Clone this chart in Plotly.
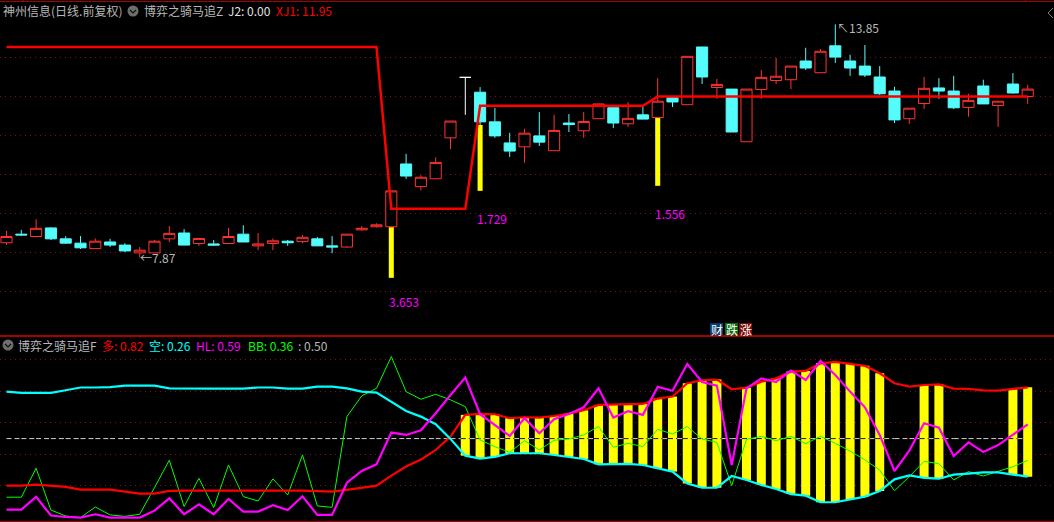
import plotly.graph_objects as go

W, H = 1054, 522

# ---- price panel data (index = trading day) ----
opens = [8.25,8.47,8.41,8.63,8.35,8.24,8.10,8.27,8.19,7.99,7.99,8.35,8.50,8.23,8.22,8.23,8.47,8.17,8.23,8.29,8.28,8.35,8.17,8.14,
         8.58,8.66,8.66,10.27,9.69,9.89,10.94,12.49,12.11,11.35,10.81,10.71,10.99,10.61,11.32,11.12,11.43,11.71,11.30,11.53,11.46,11.97,11.79,
         13.27,12.23,12.19,10.84,12.18,12.41,12.43,12.91,12.61,13.30,12.91,12.78,12.50,12.14,11.43,11.82,12.22,12.14,11.72,12.27,11.77,12.32,12.00]
highs = [8.55,8.58,8.85,8.65,8.42,8.42,8.36,8.35,8.24,8.14,8.32,8.68,8.60,8.36,8.32,8.63,8.70,8.50,8.36,8.32,8.45,8.40,8.42,8.47,
         8.68,8.75,9.58,10.53,9.98,10.44,11.37,12.49,12.24,11.71,11.07,11.17,11.60,11.53,11.55,11.60,11.81,11.71,11.86,11.73,12.47,11.97,13.03,
         13.27,12.45,12.19,12.19,12.68,12.99,12.78,13.25,13.22,13.85,13.07,13.32,12.78,12.25,11.70,12.50,12.47,12.53,12.07,12.43,11.88,12.60,12.30]
lows = [8.19,8.42,8.41,8.32,8.22,8.09,8.10,8.14,8.01,7.87,7.99,8.27,8.19,8.17,8.17,8.23,8.27,8.06,8.06,8.17,8.24,8.17,7.98,8.12,
        8.56,8.64,8.66,9.89,9.59,9.89,10.65,11.53,11.27,10.94,10.45,10.30,10.73,10.61,11.09,10.94,11.43,11.19,11.22,11.42,11.46,11.73,11.79,
        12.32,11.94,11.09,10.84,11.94,12.32,12.19,12.68,12.61,12.86,12.53,12.50,12.04,11.32,11.30,11.68,11.94,11.68,11.48,11.81,11.22,12.07,11.81]
closes = [8.41,8.45,8.62,8.35,8.24,8.12,8.29,8.19,8.04,8.06,8.29,8.49,8.19,8.36,8.19,8.41,8.27,8.22,8.30,8.25,8.39,8.17,8.14,8.47,
          8.62,8.71,9.58,9.96,9.93,10.31,11.37,12.49,11.35,10.99,10.60,11.06,10.83,11.13,11.28,11.36,11.81,11.32,11.44,11.42,11.88,11.86,13.03,
          12.50,12.31,11.09,12.19,12.49,12.52,12.78,12.73,13.16,13.01,12.73,12.55,12.07,11.40,11.70,12.21,12.14,11.71,11.90,11.81,11.88,12.09,12.19]
flat_days = [31]
xj1 = [13.27]*26 + [9.12]*6 + [11.76]*12 + [12.0]*26
signal_days = [26, 32, 44]
signal_tops = [8.65, 11.27, 11.46]
signal_bottoms = [7.35, 9.58, 9.71]
signal_labels = ["3.653", "1.729", "1.556"]
signal_label_prices = [6.75, 8.86, 8.99]
price_grid = [7, 8, 9, 10, 11, 12, 13]

# ---- indicator panel data ----
duo = [.202,.202,.209,.202,.194,.177,.177,.177,.164,.152,.152,.169,.171,.171,.171,.175,.171,.171,.171,.171,.171,.167,.164,.175,
       .190,.202,.266,.323,.367,.428,.513,.650,.656,.654,.629,.635,.633,.643,.658,.679,.713,.715,.715,.719,.753,.766,.850,
       .869,.873,.812,.822,.860,.881,.924,.928,.976,.985,.972,.960,.913,.850,.829,.839,.843,.816,.814,.805,.803,.812,.824]
kong = [.797,.789,.789,.789,.806,.823,.823,.825,.835,.837,.835,.818,.816,.816,.816,.816,.816,.823,.823,.816,.816,.829,.829,.818,
        .797,.791,.734,.675,.639,.591,.498,.392,.373,.384,.407,.407,.407,.396,.384,.371,.337,.340,.340,.333,.312,.291,.215,
        .190,.189,.263,.238,.206,.181,.149,.139,.097,.097,.116,.133,.168,.242,.267,.251,.246,.272,.278,.286,.286,.274,.259]
hl = [.051,.051,.131,.013,.004,0,.021,0,0,0,.044,.122,.021,.084,.021,.118,.038,.038,.078,.048,.135,.017,.017,.221,
      .295,.337,.538,.523,.553,.660,.776,.886,.654,.586,.517,.629,.534,.622,.656,.698,.818,.633,.673,.650,.827,.802,.972,
      .858,.835,.333,.818,.881,.858,.930,.871,.991,.902,.797,.698,.523,.295,.424,.597,.569,.390,.476,.415,.459,.523,.590]
bb = [.129,.129,.312,.048,.010,0,.067,.017,.008,.021,.190,.363,.070,.249,.063,.333,.133,.105,.245,.143,.397,.074,.065,.639,
      .770,.818,1.019,.797,.749,.780,.745,.702,.491,.449,.413,.487,.428,.489,.498,.523,.576,.445,.470,.449,.559,.529,.576,
      .497,.476,.202,.495,.514,.487,.514,.468,.514,.470,.421,.365,.301,.170,.259,.356,.341,.238,.291,.263,.295,.322,.362]
mid = [0.5]*70
band_days = list(range(31, 49)) + list(range(50, 60)) + [62, 63, 68, 69]
ind_grid = [0.2, 0.4, 0.6, 0.8, 1.0]

days = list(range(70))
RED, CANDLE_RED, CANDLE_CYAN = "#ff0000", "#ff3232", "#54fcfc"
GRID = "#7a1414"
BORDER = "#a80000"
GRAY = "#b8b8b8"
FONT = "Noto Sans CJK SC, Liberation Sans, sans-serif"

fig = go.Figure()
normal = [i for i in days if i not in flat_days]

def pick(a, idx):
    return [a[i] for i in idx]

fig.add_trace(go.Candlestick(
    x=normal, open=pick(opens, normal), high=pick(highs, normal), low=pick(lows, normal), close=pick(closes, normal),
    increasing=dict(line=dict(color=CANDLE_RED, width=1), fillcolor="#000000"),
    decreasing=dict(line=dict(color=CANDLE_CYAN, width=1), fillcolor=CANDLE_CYAN),
    xaxis="x", yaxis="y", showlegend=False))
fig.add_trace(go.Candlestick(
    x=flat_days, open=pick(opens, flat_days), high=pick(highs, flat_days), low=pick(lows, flat_days), close=pick(closes, flat_days),
    increasing=dict(line=dict(color="#ffffff", width=1), fillcolor="#ffffff"),
    decreasing=dict(line=dict(color="#ffffff", width=1), fillcolor="#ffffff"),
    xaxis="x", yaxis="y", showlegend=False))
fig.add_trace(go.Bar(x=signal_days, y=[t - b for t, b in zip(signal_tops, signal_bottoms)], base=signal_bottoms,
                     width=0.34, marker=dict(color="#ffff00", line=dict(width=0)), xaxis="x", yaxis="y", showlegend=False))
fig.add_trace(go.Scatter(x=days, y=xj1, mode="lines", line=dict(color=RED, width=2.5), xaxis="x", yaxis="y", showlegend=False))

fig.add_trace(go.Bar(x=band_days, y=[duo[i] - kong[i] for i in band_days], base=pick(kong, band_days),
                     width=0.61, marker=dict(color="#ffff00", line=dict(width=0)), xaxis="x2", yaxis="y2", showlegend=False))

# the 0.50 reference line: pale on the black gaps, dark where it crosses a bar
gap_x, gap_y, over_x, over_y = [], [], [], []
for d in days[:-1]:
    if d in band_days:
        over_x += [d - 0.305, d + 0.305, None]
        over_y += [mid[d], mid[d], None]
    start = d + 0.305 if d in band_days else d
    end = d + 1 - 0.305 if d + 1 in band_days else d + 1
    gap_x += [start, end, None]
    gap_y += [mid[d], mid[d], None]
fig.add_trace(go.Scatter(x=gap_x, y=gap_y, mode="lines", line=dict(color="#d0d0d0", width=1, dash="5px,3px"),
                         xaxis="x2", yaxis="y2", showlegend=False))
fig.add_trace(go.Scatter(x=over_x, y=over_y, mode="lines", line=dict(color="#1a1a1a", width=1, dash="5px,3px"),
                         xaxis="x2", yaxis="y2", showlegend=False))
fig.add_trace(go.Scatter(x=days, y=bb, mode="lines", line=dict(color="#00ff00", width=1), xaxis="x2", yaxis="y2", showlegend=False))
fig.add_trace(go.Scatter(x=days, y=duo, mode="lines", line=dict(color=RED, width=2.2), xaxis="x2", yaxis="y2", showlegend=False))
fig.add_trace(go.Scatter(x=days, y=kong, mode="lines", line=dict(color="#00ffff", width=2.2), xaxis="x2", yaxis="y2", showlegend=False))
fig.add_trace(go.Scatter(x=days, y=hl, mode="lines", line=dict(color="#ff00ff", width=2.2), xaxis="x2", yaxis="y2", showlegend=False))

def txt(s, x, y, color=GRAY, size=12, **kw):
    return dict(text=s, x=x / W, y=1 - y / H, xref="paper", yref="paper", xanchor="left", yanchor="middle",
                showarrow=False, font=dict(family=FONT, size=size, color=color), **kw)

ann = [
    txt("神州信息(日线.前复权)", 1, 11),
    txt("博弈之骑马追Z", 142, 11),
    txt("J2: 0.00", 226, 11, "#e0e0e0"),
    txt("XJ1: 11.95", 274, 11, RED),
    txt("博弈之骑马追F", 16, 345),
    txt("多: 0.82", 100, 345, RED),
    txt("空: 0.26", 147, 345, "#00ffff"),
    txt("HL: 0.59", 194, 345, "#ff00ff"),
    txt("BB: 0.36", 246, 345, "#00ff00"),
    txt(": 0.50", 296, 345),
    txt("财", 709, 329, "#ffffff", 12),
    txt("跌", 724, 329, "#ffffff", 12),
    txt("涨", 738, 329, "#ffffff", 12),
]
for lab, d, p, sh in zip(signal_labels, signal_days, signal_label_prices, [-4, -5, -5]):
    ann.append(dict(text=lab, x=d, y=p, xref="x", yref="y", xanchor="left", yanchor="middle", showarrow=False,
                    xshift=sh, font=dict(family=FONT, size=12, color="#ff00ff")))
ann.append(dict(text="←7.87", x=9, y=7.87, xref="x", yref="y", xanchor="left", yanchor="middle", showarrow=False,
                xshift=-2, font=dict(family=FONT, size=12, color=GRAY)))
ann.append(dict(text="↖13.85", x=56, y=13.85, xref="x", yref="y", xanchor="left", yanchor="middle", showarrow=False,
                xshift=0, yshift=-3, font=dict(family=FONT, size=12, color=GRAY)))

def px_x(x):
    return x / W

def px_y(y):
    return 1 - y / H

def icon(cx, cy):
    r = 5.5
    return [
        dict(type="circle", xref="paper", yref="paper", x0=px_x(cx - r), x1=px_x(cx + r), y0=px_y(cy + r), y1=px_y(cy - r),
             fillcolor="#6e6e6e", line=dict(width=0)),
        dict(type="path", xref="paper", yref="paper",
             path=f"M {px_x(cx-3)} {px_y(cy-1)} L {px_x(cx)} {px_y(cy+2)} L {px_x(cx+3)} {px_y(cy-1)}",
             line=dict(color="#111111", width=1.2)),
    ]

def badge(x0, color):
    return dict(type="rect", xref="paper", yref="paper", x0=px_x(x0), x1=px_x(x0 + 13), y0=px_y(335), y1=px_y(323),
                fillcolor=color, line=dict(width=0), layer="below")

chrome = [
    badge(710, "#0a3a6e"), badge(725, "#0a6e0a"), badge(739, "#7a0a0a"),
    dict(type="path", xref="paper", yref="paper",
         path=f"M {px_x(1053)} {px_y(8)} L {px_x(1048)} {px_y(13)} L {px_x(1053)} {px_y(18)}",
         line=dict(color="#808080", width=1)),
    dict(type="line", xref="paper", yref="paper", x0=px_x(23.5), x1=px_x(23.5), y0=px_y(0), y1=px_y(2),
         line=dict(color=BORDER, width=1)),
    dict(type="line", xref="paper", yref="paper", x0=px_x(1025.5), x1=px_x(1025.5), y0=px_y(0), y1=px_y(2),
         line=dict(color=BORDER, width=1)),
]

PANEL_TOP, PANEL_MID, PANEL_BOT = 2, 336, 521
x_range = [-6.5 / 14.8, (W - 6.5) / 14.8]
axis_x = dict(range=x_range, showgrid=False, zeroline=False, showticklabels=False, ticks="",
              showline=True, mirror=True, linecolor=BORDER, linewidth=1, fixedrange=True)
axis_y = dict(zeroline=False, showticklabels=False, ticks="", showline=False, fixedrange=True, showgrid=True,
              gridcolor=GRID, gridwidth=1, griddash="1px,4px", tickmode="array")

fig.update_layout(
    width=W, height=H, margin=dict(l=0, r=0, t=0, b=0), paper_bgcolor="#000000", plot_bgcolor="#000000",
    showlegend=False, boxmode="overlay", barmode="overlay", boxgap=0.25, boxgroupgap=0,
    xaxis=dict(axis_x, anchor="y", rangeslider=dict(visible=False)),
    xaxis2=dict(axis_x, anchor="y2", rangeslider=dict(visible=False)),
    yaxis=dict(axis_y, anchor="x", domain=[1 - PANEL_MID / H, 1 - PANEL_TOP / H], range=[5.859, 14.423], tickvals=price_grid),
    yaxis2=dict(axis_y, anchor="x2", domain=[1 - PANEL_BOT / H, 1 - PANEL_MID / H], range=[-0.0215, 1.149], tickvals=ind_grid),
    annotations=ann, shapes=icon(133, 11) + icon(8, 345) + chrome,
)
fig.write_html("out.html", config=dict(displayModeBar=False),
               post_script="document.body.style.margin='0';document.body.style.background='#000';document.body.style.overflow='hidden';")
